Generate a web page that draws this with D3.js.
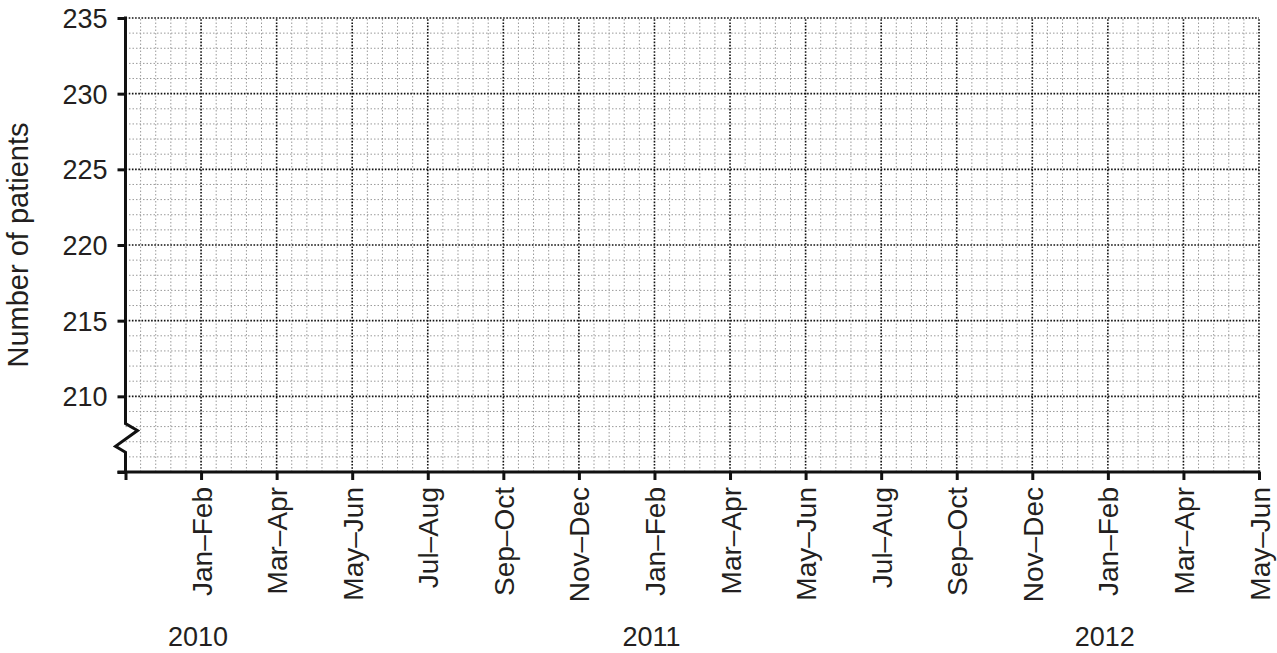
<!DOCTYPE html>
<html>
<head>
<meta charset="utf-8">
<script src="https://cdn.jsdelivr.net/npm/d3@7"></script>
<style>
  body { margin: 0; background: #fff; }
  text { font-family: "Liberation Sans", Arial, Helvetica, sans-serif; fill: #231f20; }
</style>
</head>
<body>
<div id="chart"></div>
<script>
// Periodos de dos meses (eje x) y años que los agrupan
var periods = ["Jan\u2013Feb", "Mar\u2013Apr", "May\u2013Jun", "Jul\u2013Aug", "Sep\u2013Oct", "Nov\u2013Dec",
               "Jan\u2013Feb", "Mar\u2013Apr", "May\u2013Jun", "Jul\u2013Aug", "Sep\u2013Oct", "Nov\u2013Dec",
               "Jan\u2013Feb", "Mar\u2013Apr", "May\u2013Jun"];
var years = ["2010", "2011", "2012"];
var yearStart = [1, 7, 13];          // indice del periodo Jan–Feb de cada año
// Eje y
var yDomain = [205, 235];
var yTicks = [205, 210, 215, 220, 225, 230, 235];
var yBreak = [206.3, 208.2];          // tramo del corte del eje
var yTitle = "Number of patients";

const W = 1277, H = 653;
const margin = { top: 18, right: 18, bottom: 181, left: 125.5 };
const width = W - margin.left - margin.right,
  height = H - margin.top - margin.bottom;

const svg = d3.select("#chart").append("svg")
  .attr("width", W).attr("height", H);

const x = d3.scaleLinear().domain([0, periods.length]).range([margin.left, margin.left + width]);
const y = d3.scaleLinear().domain(yDomain).range([margin.top + height, margin.top]);

// Rejilla menor: 5 divisiones por periodo, 1 paciente por linea
const grid = svg.append("g");
const xMinor = d3.range(0, periods.length * 5 + 1).map(function (d) { return d / 5; });
const yMinor = d3.range(yDomain[0], yDomain[1] + 1);

grid.selectAll(".vminor").data(xMinor.filter(function (d, i) { return i % 5 !== 0; }))
  .enter().append("line")
  .attr("x1", function (d) { return x(d); }).attr("x2", function (d) { return x(d); })
  .attr("y1", y(yDomain[0])).attr("y2", y(yDomain[1]))
  .style("stroke", "#9a9a9a").style("stroke-width", 1).style("stroke-dasharray", "1.5,2");

grid.selectAll(".hminor").data(yMinor.filter(function (d) { return d % 5 !== 0; }))
  .enter().append("line")
  .attr("x1", x(0)).attr("x2", x(periods.length))
  .attr("y1", function (d) { return y(d); }).attr("y2", function (d) { return y(d); })
  .style("stroke", "#9a9a9a").style("stroke-width", 1).style("stroke-dasharray", "1.5,2");

// Rejilla mayor (punteada negra)
grid.selectAll(".vmajor").data(d3.range(1, periods.length + 1))
  .enter().append("line")
  .attr("x1", function (d) { return x(d); }).attr("x2", function (d) { return x(d); })
  .attr("y1", y(yDomain[0])).attr("y2", y(yDomain[1]))
  .style("stroke", "#111").style("stroke-width", 1.6).style("stroke-dasharray", "1.6,1.6");

grid.selectAll(".hmajor").data(yTicks.filter(function (d) { return d > yDomain[0]; }))
  .enter().append("line")
  .attr("x1", x(0)).attr("x2", x(periods.length))
  .attr("y1", function (d) { return y(d); }).attr("y2", function (d) { return y(d); })
  .style("stroke", "#111").style("stroke-width", 1.6).style("stroke-dasharray", "1.6,1.6");

// Eje x
const xAxis = svg.append("g")
  .attr("transform", "translate(0," + y(yDomain[0]) + ")")
  .call(d3.axisBottom(x).tickValues(d3.range(0, periods.length + 1)).tickSize(8).tickPadding(14)
    .tickFormat(function (d) { return d === 0 ? "" : periods[d - 1]; }));
xAxis.select(".domain").remove();
xAxis.append("line")
  .attr("x1", x(0) - 8).attr("x2", x(periods.length) + 1.5)
  .style("stroke", "#111").style("stroke-width", 3);
xAxis.selectAll(".tick line").style("stroke", "#111").style("stroke-width", 3);
xAxis.selectAll(".tick text")
  .style("font-size", "28px")
  .attr("text-anchor", "end")
  .attr("transform", "rotate(-90)")
  .attr("x", -15).attr("y", 0).attr("dy", "0.36em");

// Eje y con corte (zigzag)
const yAxis = svg.append("g")
  .attr("transform", "translate(" + x(0) + ",0)")
  .call(d3.axisLeft(y).tickValues(yTicks).tickSize(8).tickPadding(10)
    .tickFormat(function (d) { return d === yDomain[0] ? "" : d; }));
yAxis.select(".domain").remove();
yAxis.selectAll(".tick line").style("stroke", "#111").style("stroke-width", 3);
yAxis.selectAll(".tick text").style("font-size", "27px").attr("dy", "0.35em");

yAxis.append("path")
  .attr("d", d3.line()([
    [0, y(yDomain[1]) - 1.5], [0, y(yBreak[1])],
    [12, y(yBreak[1]) + 7],
    [-10, y(yBreak[0]) - 6],
    [0, y(yBreak[0])], [0, y(yDomain[0])]
  ]))
  .style("fill", "none").style("stroke", "#111").style("stroke-width", 3)
  .style("stroke-linejoin", "miter");

// Titulo del eje y
svg.append("text")
  .attr("transform", "translate(28," + (margin.top + height / 2) + ") rotate(-90)")
  .attr("text-anchor", "middle")
  .style("font-size", "29px")
  .text(yTitle);

// Años
svg.selectAll(".year").data(years).enter().append("text")
  .attr("x", function (d, i) { return x(yearStart[i]) - 3; })
  .attr("y", 646)
  .attr("text-anchor", "middle")
  .style("font-size", "27px")
  .text(function (d) { return d; });
</script>
</body>
</html>
